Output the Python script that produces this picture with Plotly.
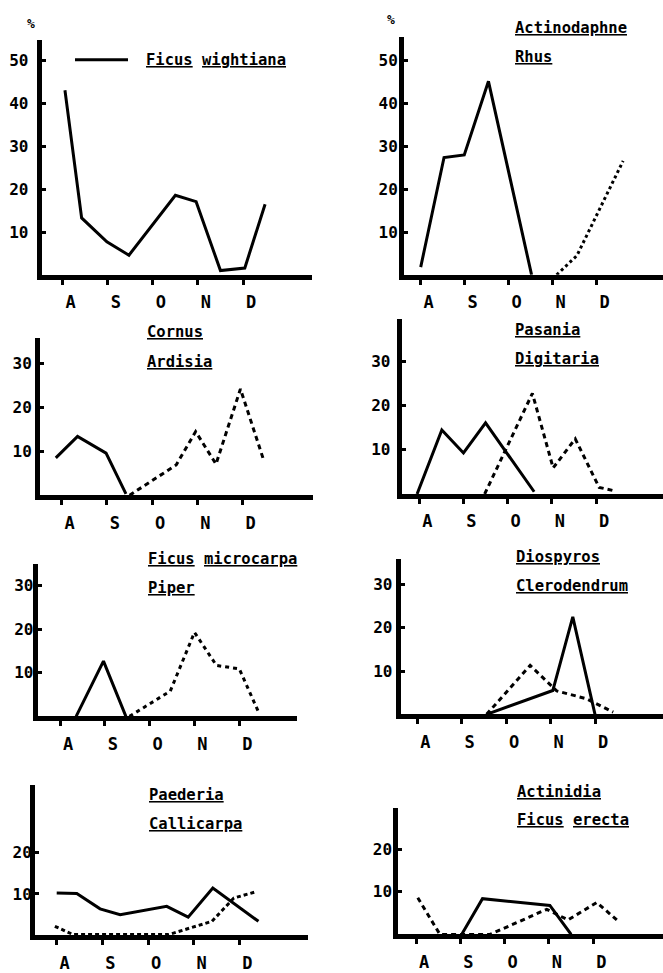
import plotly.graph_objects as go

W, H = 663, 973
MONTHS = ["A", "S", "O", "N", "D"]
MONTH_POS = [0, 1, 2, 3, 4]

# ---------------- data (x in months from A, y in %) ----------------
wightiana_x = [0.05, 0.42, 0.98, 1.47, 2.5, 2.96, 3.5, 4.04, 4.49]
wightiana_y = [43.1, 13.3, 7.7, 4.6, 18.6, 17.1, 1.0, 1.6, 16.5]

actinodaphne_x = [0.0, 0.53, 0.99, 1.54, 2.52]
actinodaphne_y = [1.8, 27.4, 28.0, 45.2, 0.0]
rhus_x = [3.09, 3.55, 4.6]
rhus_y = [0.0, 4.5, 26.6]

cornus_x = [-0.13, 0.35, 0.98, 1.42]
cornus_y = [8.5, 13.4, 9.6, 0.3]
ardisia_x = [1.5, 2.53, 2.96, 3.41, 3.95, 4.46]
ardisia_y = [0.0, 6.9, 14.5, 7.1, 24.2, 8.1]

pasania_x = [-0.05, 0.51, 1.0, 1.5, 2.6]
pasania_y = [0.0, 14.5, 9.3, 16.1, 0.5]
digitaria_x = [1.48, 2.56, 3.03, 3.53, 4.07, 4.46]
digitaria_y = [0.0, 22.8, 5.9, 12.5, 1.5, 0.6]

microcarpa_x = [0.36, 0.97, 1.47]
microcarpa_y = [0.0, 12.7, 0.0]
piper_x = [1.55, 2.46, 3.0, 3.49, 4.0, 4.45]
piper_y = [0.0, 5.8, 19.3, 11.7, 10.9, 0.5]

diospyros_x = [1.56, 3.05, 3.5, 4.0]
diospyros_y = [0.0, 5.5, 22.5, 0.0]
clerodendrum_x = [1.56, 2.54, 3.14, 3.81, 4.41]
clerodendrum_y = [0.0, 11.3, 5.4, 3.6, 0.5]

paederia_x = [0.0, 0.44, 0.95, 1.39, 2.41, 2.88, 3.42, 4.42]
paederia_y = [10.2, 10.1, 6.4, 5.0, 7.0, 4.4, 11.4, 3.4]
callicarpa_x = [-0.04, 0.36, 2.45, 2.93, 3.4, 3.88, 4.39]
callicarpa_y = [2.2, 0.2, 0.2, 1.8, 3.4, 9.0, 10.6]

actinidia_x = [1.03, 1.5, 3.02, 3.5]
actinidia_y = [0.0, 8.4, 6.8, 0.0]
erecta_x = [0.04, 0.54, 1.67, 2.95, 3.43, 4.08, 4.53]
erecta_y = [8.6, 0.0, 0.0, 5.9, 3.4, 7.5, 3.4]

# ---------------- panel layout (pixel geometry) ----------------
panels = [
    dict(yx=41.7, xy=276, top=40, right=312, a=62.7, d=243, unit=4.3, yt=[10, 20, 30, 40, 50], so=5,
         series=[(wightiana_x, wightiana_y, None)],
         titles=[("Ficus wightiana", 144, 60)]),
    dict(yx=404, xy=276, top=37, right=663, a=420.7, d=596.7, unit=4.3, yt=[10, 20, 30, 40, 50], so=-2,
         series=[(actinodaphne_x, actinodaphne_y, None), (rhus_x, rhus_y, "3px,3px")],
         titles=[("Actinodaphne", 512.7, 28), ("Rhus", 512.7, 57)]),
    dict(yx=40, xy=497.3, top=339.3, right=313, a=61.7, d=242.7, unit=4.41, yt=[10, 20, 30], so=0,
         series=[(cornus_x, cornus_y, None), (ardisia_x, ardisia_y, "5px,4px")],
         titles=[("Cornus", 145, 333), ("Ardisia", 145, 363)]),
    dict(yx=401.7, xy=496, top=320, right=663, a=419.3, d=596, unit=4.43, yt=[10, 20, 30], so=3,
         series=[(pasania_x, pasania_y, None), (digitaria_x, digitaria_y, "5px,4px")],
         titles=[("Pasania", 513.3, 331.7), ("Digitaria", 513.3, 360.7)]),
    dict(yx=37.7, xy=719.3, top=566, right=296.7, a=60, d=239.3, unit=4.37, yt=[10, 20, 30], so=-4,
         series=[(microcarpa_x, microcarpa_y, None), (piper_x, piper_y, "4px,4px")],
         titles=[("Ficus microcarpa", 146, 561.7), ("Piper", 146, 590)]),
    dict(yx=400.7, xy=717.3, top=561.7, right=663, a=417.3, d=595, unit=4.35, yt=[10, 20, 30], so=0,
         series=[(diospyros_x, diospyros_y, None), (clerodendrum_x, clerodendrum_y, "5px,4px")],
         titles=[("Diospyros", 514, 559.3), ("Clerodendrum", 514, 588.3)]),
    dict(yx=35, xy=939.3, top=788.3, right=308.3, a=56.7, d=239.3, unit=4.17, yt=[10, 20], so=-5,
         series=[(paederia_x, paederia_y, None), (callicarpa_x, callicarpa_y, "4px,3px")],
         titles=[("Paederia", 146.7, 798.3), ("Callicarpa", 146.7, 827.3)]),
    dict(yx=398.3, xy=938.3, top=811.7, right=663, a=416, d=593.3, unit=4.28, yt=[10, 20], so=-2,
         series=[(actinidia_x, actinidia_y, None), (erecta_x, erecta_y, "5px,4px")],
         titles=[("Actinidia", 515, 795), ("Ficus erecta", 515, 823.3)]),
]

FONT = "DejaVu Sans Mono"
fig = go.Figure()
annotations = []
layout = {}

def underline(t):
    return " ".join("<u>%s</u>" % w for w in t.split(" "))

for i, p in enumerate(panels, start=1):
    sfx = "" if i == 1 else str(i)
    sp = (p["d"] - p["a"]) / 4.0
    xr = [(p["yx"] - p["a"]) / sp, (p["right"] - p["a"]) / sp]
    yr = [0, (p["xy"] - p["top"]) / p["unit"]]
    layout["xaxis" + sfx] = dict(
        domain=[p["yx"] / W, p["right"] / W], range=xr, anchor="y" + sfx,
        showline=True, linewidth=5, linecolor="black", showgrid=False, zeroline=False,
        ticks="outside", ticklen=5, tickwidth=3, tickcolor="black",
        tickvals=MONTH_POS, ticktext=MONTHS, ticklabelshift=8, ticklabelstandoff=3,
        tickfont=dict(family=FONT, size=17, color="black", weight="bold"),
        fixedrange=True,
    )
    layout["yaxis" + sfx] = dict(
        domain=[1 - p["xy"] / H, 1 - p["top"] / H], range=yr, anchor="x" + sfx,
        showline=True, linewidth=5, linecolor="black", showgrid=False, zeroline=False,
        ticks="inside", ticklen=4, tickwidth=3, tickcolor="black",
        tickvals=p["yt"], ticktext=[str(v) for v in p["yt"]], ticklabelstandoff=p["so"],
        tickfont=dict(family=FONT, size=16, color="black", weight="bold"),
        fixedrange=True,
    )
    for xs, ys, dash in p["series"]:
        fig.add_trace(go.Scatter(
            x=xs, y=ys, mode="lines", xaxis="x" + sfx, yaxis="y" + sfx,
            line=dict(color="black", width=3, dash=dash if dash else "solid"),
            showlegend=False, hoverinfo="skip"))
    for t, tx, ty in p["titles"]:
        annotations.append(dict(
            text=underline(t), xref="paper", yref="paper", x=tx / W, y=1 - ty / H,
            xanchor="left", yanchor="middle", showarrow=False,
            font=dict(family=FONT, size=15.5, color="black", weight="bold")))

# percent signs
for px, py in [(31, 24), (391, 20)]:
    annotations.append(dict(text="%", xref="paper", yref="paper", x=px / W, y=1 - py / H,
                            xanchor="center", yanchor="middle", showarrow=False,
                            font=dict(family=FONT, size=13, color="black", weight="bold")))

fig.update_layout(
    width=W, height=H, margin=dict(l=0, r=0, t=0, b=0),
    paper_bgcolor="white", plot_bgcolor="white",
    annotations=annotations,
    shapes=[dict(type="line", xref="paper", yref="paper", x0=75 / W, x1=128 / W,
                 y0=1 - 60 / H, y1=1 - 60 / H, line=dict(color="black", width=3))],
    **layout,
)

fig.write_html("out.html", config={"displayModeBar": False},
               post_script="document.body.style.margin='0';")
